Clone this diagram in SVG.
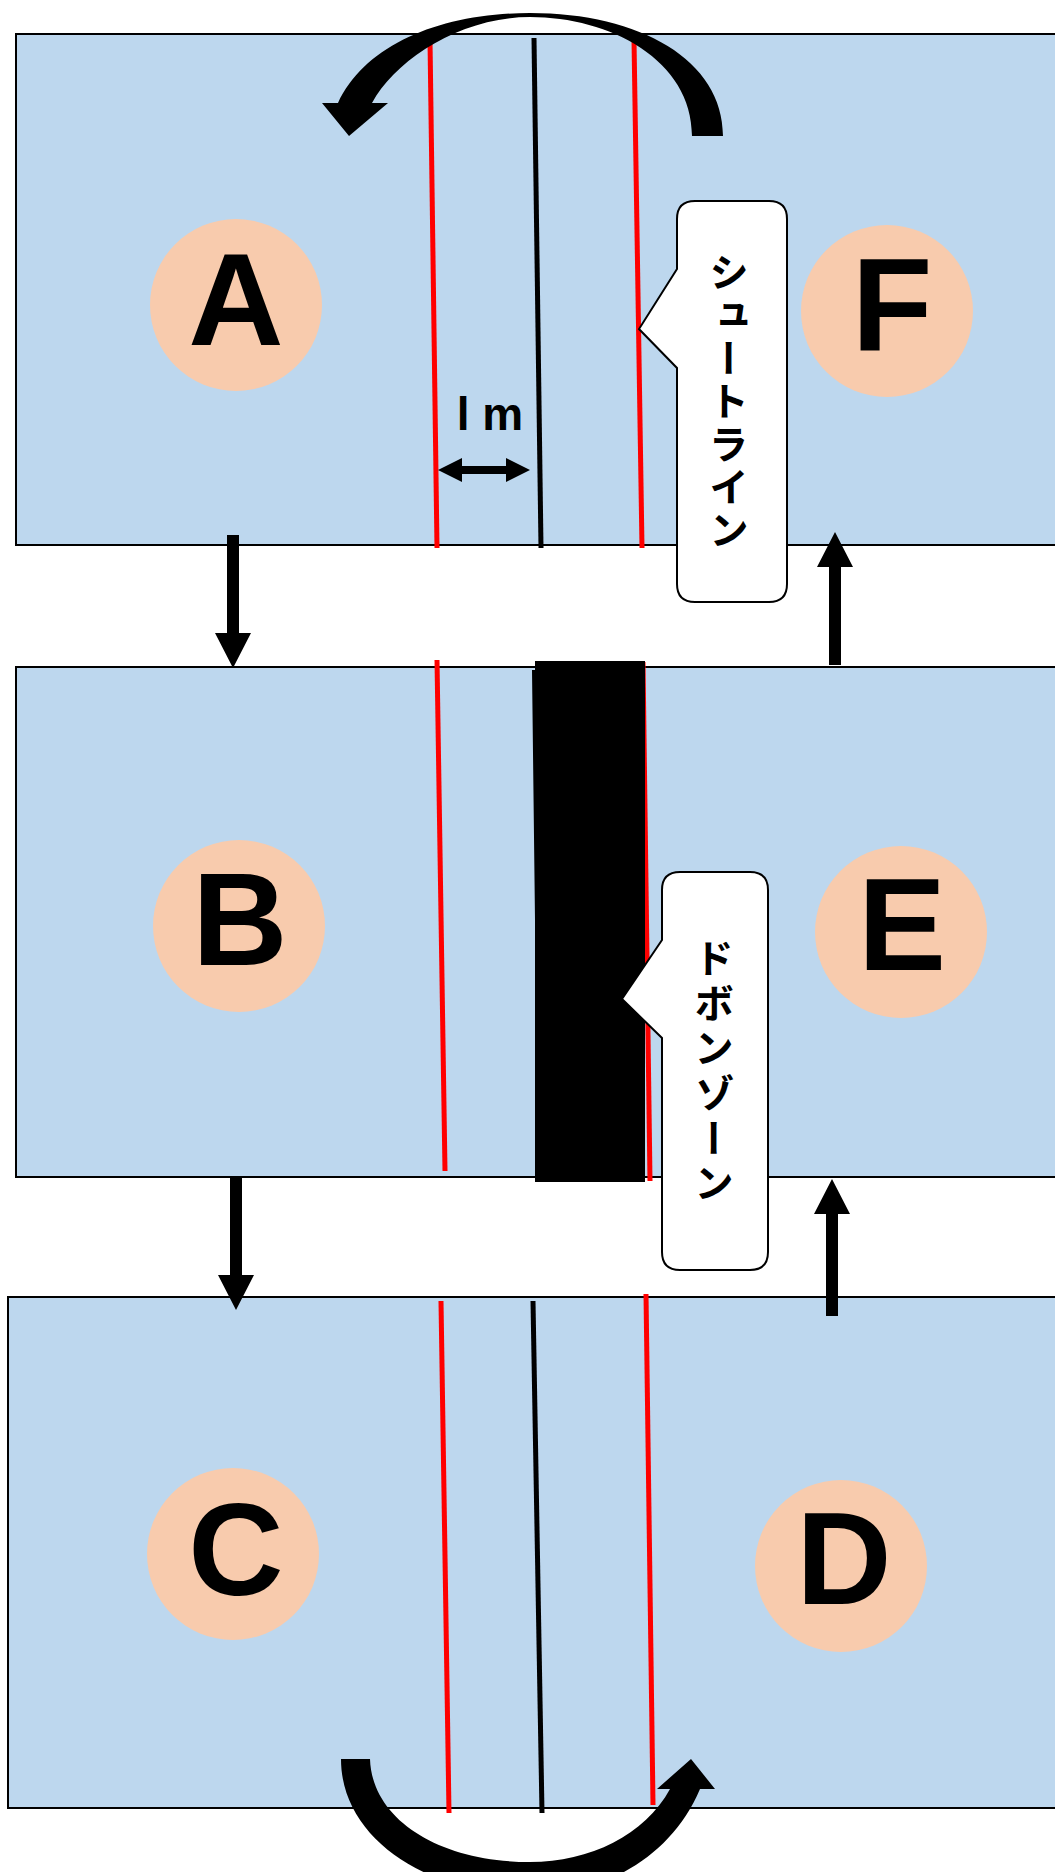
<svg xmlns="http://www.w3.org/2000/svg" width="1055" height="1872" viewBox="0 0 1055 1872">
<style>
.panel{fill:#BDD7EE;stroke:#000;stroke-width:2}
.red{stroke:#FF0000;stroke-width:5;fill:none}
.blk{stroke:#000;stroke-width:5;fill:none}
.circ{fill:#F8CBAD}
.letter{font-family:"Liberation Sans",Arial,sans-serif;font-weight:bold;font-size:132px;fill:#000;text-anchor:middle}
.call{fill:#fff;stroke:#000;stroke-width:2}
.vt{font-family:"Noto Sans CJK JP",sans-serif;font-weight:bold;font-size:40px;fill:#000;writing-mode:vertical-rl}
.arr{fill:#000}
</style>
<rect width="1055" height="1872" fill="#fff"/>
<g id="panel1">
<rect class="panel" x="16" y="34" width="1045" height="511"/>
<line class="red" x1="430" y1="40" x2="437" y2="548"/>
<line class="blk" x1="534" y1="38" x2="541" y2="548"/>
<line class="red" x1="634" y1="40" x2="642" y2="548"/>
</g>
<g id="panel2">
<rect class="panel" x="16" y="667" width="1045" height="510"/>
<line class="red" x1="437" y1="660" x2="445" y2="1171"/>
<line class="red" x1="643" y1="662" x2="650" y2="1181"/>
<polygon class="arr" points="535,661 645,661 645,1182 535,1182 535,920 532,670 535,670"/>
</g>
<g id="panel3">
<rect class="panel" x="8" y="1297" width="1053" height="511"/>
<line class="red" x1="441" y1="1301" x2="449" y2="1813"/>
<line class="blk" x1="533" y1="1301" x2="542" y2="1813"/>
<line class="red" x1="646" y1="1294" x2="653" y2="1805"/>
</g>
<g id="nodeA"><circle class="circ" cx="236" cy="305" r="86"/><text class="letter" x="236" y="345">A</text></g>
<g id="nodeF"><circle class="circ" cx="887" cy="311" r="86"/><text class="letter" x="892" y="350">F</text></g>
<g id="nodeB"><circle class="circ" cx="239" cy="926" r="86"/><text class="letter" x="240" y="965">B</text></g>
<g id="nodeE"><circle class="circ" cx="901" cy="932" r="86"/><text class="letter" x="902" y="970">E</text></g>
<g id="nodeC"><circle class="circ" cx="233" cy="1554" r="86"/><text class="letter" x="236" y="1595">C</text></g>
<g id="nodeD"><circle class="circ" cx="841" cy="1566" r="86"/><text class="letter" x="844" y="1604">D</text></g>
<g id="label-1m">
<text x="490" y="430" font-family="Liberation Sans,Arial,sans-serif" font-weight="bold" font-size="46" text-anchor="middle">l m</text>
<polygon class="arr" points="438,470 462,458 462,466 506,466 506,458 530,470 506,482 506,474 462,474 462,482"/>
</g>
<g id="callout-shoot">
<path class="call" d="M695,201 H769 Q787,201 787,219 V584 Q787,602 769,602 H695 Q677,602 677,584 V368 L639,329 L677,269 V219 Q677,201 695,201 Z"/>
<text class="vt" x="729" y="252" letter-spacing="3">シュートライン</text>
</g>
<g id="callout-dobon">
<path class="call" d="M680,872 H750 Q768,872 768,890 V1252 Q768,1270 750,1270 H680 Q662,1270 662,1252 V1038 L622,999 L662,940 V890 Q662,872 680,872 Z"/>
<text class="vt" x="714" y="938" letter-spacing="5">ドボンゾーン</text>
</g>
<g id="connectors">
<path class="arr" d="M723,136 C723,60 640,13 530,13 C440,13 365,45 338,103 L322,103 L349,136 L388,103 L372,103 C395,60 460,17 530,17 C610,17 692,60 692,136 Z"/>
<path class="arr" d="M341,1759 C341,1840 430,1895 530,1895 C600,1895 670,1860 700,1789 L715,1789 L691,1759 L657,1789 L670,1789 C645,1835 590,1862 530,1862 C440,1862 372,1820 370,1759 Z"/>
<polygon class="arr" points="227,535 239,535 239,633 251,633 233,668 215,633 227,633"/>
<polygon class="arr" points="230,1177 242,1177 242,1275 254,1275 236,1310 218,1275 230,1275"/>
<polygon class="arr" points="829,665 841,665 841,567 853,567 835,532 817,567 829,567"/>
<polygon class="arr" points="826,1316 838,1316 838,1214 850,1214 832,1179 814,1214 826,1214"/>
</g>
</svg>
